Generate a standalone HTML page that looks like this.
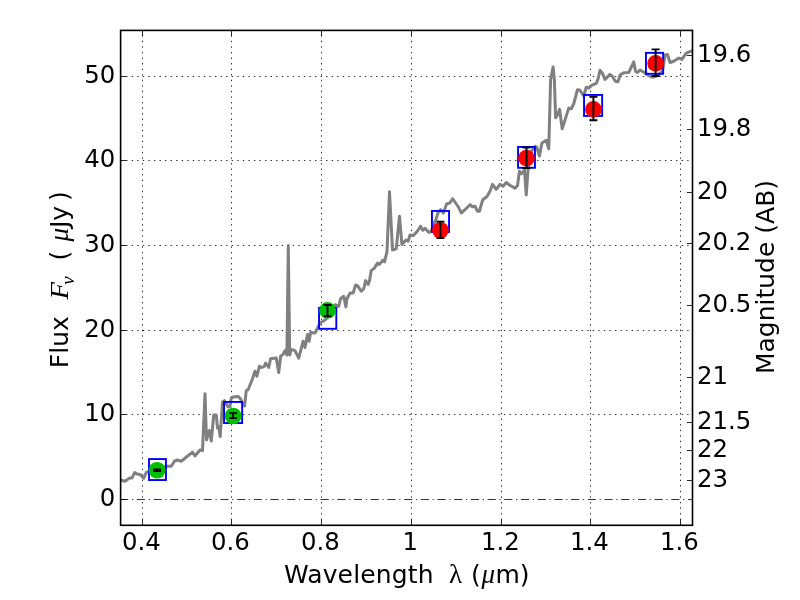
<!DOCTYPE html>
<html lang="en"><head><meta charset="utf-8"><title>SED plot</title>
<style>html,body{margin:0;padding:0;background:#fff;overflow:hidden}svg{display:block}text{font-family:"DejaVu Sans","Liberation Sans",sans-serif;fill:#000}.tk{font-size:24.4px}.lb{font-size:25px}.mi{font-family:"Liberation Serif","DejaVu Serif",serif;font-style:italic}.ms{font-family:"Liberation Serif","DejaVu Serif",serif}</style></head><body>
<svg width="800" height="600" viewBox="0 0 800 600">
<rect x="0" y="0" width="800" height="600" fill="#ffffff"/>
<defs><clipPath id="ax"><rect x="120.6" y="30.4" width="571.9" height="494.9"/></clipPath></defs>
<g stroke="#000" stroke-width="0.85" stroke-dasharray="1.35 4.205" fill="none">
<line x1="142.5" y1="525.5" x2="142.5" y2="30.4"/>
<line x1="231.5" y1="525.5" x2="231.5" y2="30.4"/>
<line x1="321.5" y1="525.5" x2="321.5" y2="30.4"/>
<line x1="411.5" y1="525.5" x2="411.5" y2="30.4"/>
<line x1="501.5" y1="525.5" x2="501.5" y2="30.4"/>
<line x1="590.5" y1="525.5" x2="590.5" y2="30.4"/>
<line x1="680.5" y1="525.5" x2="680.5" y2="30.4"/>
<line x1="120.6" y1="414.5" x2="692.5" y2="414.5"/>
<line x1="120.6" y1="330.5" x2="692.5" y2="330.5"/>
<line x1="120.6" y1="245.5" x2="692.5" y2="245.5"/>
<line x1="120.6" y1="160.5" x2="692.5" y2="160.5"/>
<line x1="120.6" y1="76.5" x2="692.5" y2="76.5"/>
</g>
<line x1="120.2" y1="499.5" x2="692.5" y2="499.5" stroke="#000" stroke-width="0.8" stroke-dasharray="8.1 3.7 1.2 3.7"/>
<polyline clip-path="url(#ax)" points="118.00,480.50 120.50,480.00 125.00,481.25 129.40,478.10 131.90,478.10 134.75,472.50 136.90,474.00 140.00,474.40 143.75,478.10 146.25,472.50 148.00,471.90 152.00,471.00 157.00,470.00 162.00,468.00 166.90,466.25 171.25,466.25 174.40,461.25 177.50,460.00 181.25,461.25 192.50,452.20 195.00,456.00 200.00,450.00 202.50,450.60 205.00,393.80 206.50,440.00 209.40,430.50 211.25,441.00 213.75,415.00 216.25,415.00 217.50,428.10 218.75,426.90 220.20,436.60 222.50,402.00 224.40,400.60 228.10,406.90 230.00,406.25 231.25,398.10 233.10,396.90 238.10,396.40 240.30,398.50 242.00,402.00 244.60,406.00 246.25,390.60 248.10,389.70 252.50,378.75 255.00,371.25 256.90,376.25 259.40,366.25 261.90,367.50 264.40,366.25 265.60,363.10 268.75,367.50 270.60,358.75 276.25,358.10 278.75,372.50 280.60,356.25 283.10,354.40 285.00,350.60 286.90,355.00 288.30,245.50 289.70,355.00 291.25,349.40 295.00,350.60 298.75,358.10 303.10,341.25 305.00,347.50 307.50,334.40 309.10,341.25 310.60,332.50 315.00,333.10 318.10,326.90 320.00,323.10 325.00,320.00 327.50,317.50 331.00,311.00 335.00,304.70 338.75,306.25 340.60,298.75 343.75,296.25 345.90,306.90 346.90,298.75 350.00,293.10 353.10,293.10 355.60,285.00 357.50,285.60 361.25,291.25 363.75,288.75 365.60,280.60 368.10,284.40 369.40,281.25 371.25,270.60 374.40,268.10 377.50,263.10 379.40,264.40 383.10,260.00 384.60,261.90 387.00,251.25 389.50,191.80 392.50,250.00 396.25,248.90 399.50,216.20 401.90,244.40 406.00,240.00 408.10,241.25 410.00,235.00 413.40,235.60 417.50,231.00 420.60,226.25 422.80,230.30 425.00,228.40 429.00,232.50 431.25,231.20 433.75,223.75 435.60,220.60 438.10,212.50 440.60,209.70 443.40,213.10 446.60,204.00 450.00,202.80 452.50,198.75 454.40,201.25 458.75,207.50 461.25,213.00 465.00,209.70 470.00,204.70 472.50,206.90 475.00,206.25 477.50,211.25 479.40,211.25 482.80,199.70 487.00,196.50 490.00,191.25 492.50,184.40 496.25,189.40 500.00,184.40 503.10,186.25 506.25,182.50 509.40,185.00 515.00,188.10 517.50,185.60 519.40,171.25 521.25,173.75 523.10,172.50 524.40,169.40 526.25,195.00 528.10,168.75 531.25,152.50 532.50,149.40 535.30,146.25 536.90,147.50 539.40,156.00 541.90,143.10 546.25,140.30 548.75,148.75 550.60,80.00 553.10,66.90 554.40,80.00 555.60,117.80 557.50,115.00 559.60,109.40 562.20,128.75 568.75,108.10 571.25,108.75 573.75,103.75 577.50,89.70 580.00,90.30 583.75,96.00 586.25,87.20 588.75,88.10 591.25,85.60 593.75,84.40 596.25,83.40 598.10,78.75 600.00,70.30 602.50,73.40 605.00,79.40 607.50,76.90 609.70,74.40 612.20,76.00 615.30,81.30 618.00,81.70 620.30,74.50 623.75,72.80 628.75,72.50 633.75,61.90 635.60,71.50 637.50,72.50 640.00,70.00 644.40,72.50 647.50,75.00 651.25,76.90 654.40,76.90 657.50,75.60 662.50,71.25 665.00,55.00 667.50,54.40 670.00,62.50 673.75,61.25 678.75,58.10 681.90,59.40 686.25,53.10 692.50,50.60 696.00,49.50" fill="none" stroke="#808080" stroke-width="3.0" stroke-linejoin="round" stroke-linecap="butt"/>
<rect x="149.05" y="459.05" width="16.90" height="21.00" fill="none" stroke="#0000ff" stroke-width="1.9"/>
<rect x="224.05" y="401.95" width="18.10" height="21.10" fill="none" stroke="#0000ff" stroke-width="1.9"/>
<rect x="319.05" y="307.85" width="17.25" height="20.95" fill="none" stroke="#0000ff" stroke-width="1.9"/>
<rect x="431.95" y="210.95" width="17.10" height="21.00" fill="none" stroke="#0000ff" stroke-width="1.9"/>
<rect x="518.05" y="146.95" width="16.90" height="20.85" fill="none" stroke="#0000ff" stroke-width="1.9"/>
<rect x="584.05" y="94.95" width="18.10" height="21.00" fill="none" stroke="#0000ff" stroke-width="1.9"/>
<rect x="645.95" y="52.85" width="17.20" height="20.95" fill="none" stroke="#0000ff" stroke-width="1.9"/>
<circle cx="157.1" cy="470.25" r="8.35" fill="#00bf00"/>
<circle cx="233.1" cy="416.0" r="8.35" fill="#00bf00"/>
<circle cx="327.5" cy="310.4" r="8.35" fill="#00bf00"/>
<circle cx="440.4" cy="230.25" r="8.35" fill="#ff0000"/>
<circle cx="526.5" cy="158.1" r="8.35" fill="#ff0000"/>
<circle cx="593.4" cy="109.4" r="8.35" fill="#ff0000"/>
<circle cx="655.6" cy="63.4" r="8.35" fill="#ff0000"/>
<g stroke="#000" stroke-width="1.9" fill="none">
<path d="M157.1 469.4V471.1M153.1 469.4h8M153.1 471.1h8"/>
<path d="M233.1 413.1V418.1M229.1 413.1h8M229.1 418.1h8"/>
<path d="M327.5 305.0V316.25M323.5 305.0h8M323.5 316.25h8"/>
<path d="M440.4 221.6V238.1M436.4 221.6h8M436.4 238.1h8"/>
<path d="M526.5 147.5V168.1M522.5 147.5h8M522.5 168.1h8"/>
<path d="M593.4 96.9V120.25M589.4 96.9h8M589.4 120.25h8"/>
<path d="M655.6 49.4V76.0M651.6 49.4h8M651.6 76.0h8"/>
</g>
<g stroke="#000" stroke-width="0.85" fill="none">
<path d="M142.5 525.3v-5.6M142.5 30.4v5.6"/>
<path d="M231.5 525.3v-5.6M231.5 30.4v5.6"/>
<path d="M321.5 525.3v-5.6M321.5 30.4v5.6"/>
<path d="M411.5 525.3v-5.6M411.5 30.4v5.6"/>
<path d="M501.5 525.3v-5.6M501.5 30.4v5.6"/>
<path d="M590.5 525.3v-5.6M590.5 30.4v5.6"/>
<path d="M680.5 525.3v-5.6M680.5 30.4v5.6"/>
<path d="M120.6 499.5h5.6"/>
<path d="M120.6 414.5h5.6"/>
<path d="M120.6 330.5h5.6"/>
<path d="M120.6 245.5h5.6"/>
<path d="M120.6 160.5h5.6"/>
<path d="M120.6 76.5h5.6"/>
<path d="M692.5 55.5h-5.6"/>
<path d="M692.5 129.5h-5.6"/>
<path d="M692.5 192.5h-5.6"/>
<path d="M692.5 243.5h-5.6"/>
<path d="M692.5 305.5h-5.6"/>
<path d="M692.5 377.5h-5.6"/>
<path d="M692.5 422.5h-5.6"/>
<path d="M692.5 450.5h-5.6"/>
<path d="M692.5 480.5h-5.6"/>
</g>
<rect x="120.6" y="30.4" width="571.9" height="494.9" fill="none" stroke="#000" stroke-width="1.6"/>
<text class="tk" x="141.30" y="550.3" text-anchor="middle">0.4</text>
<text class="tk" x="230.30" y="550.3" text-anchor="middle">0.6</text>
<text class="tk" x="320.30" y="550.3" text-anchor="middle">0.8</text>
<text class="tk" x="410.30" y="550.3" text-anchor="middle">1</text>
<text class="tk" x="500.30" y="550.3" text-anchor="middle">1.2</text>
<text class="tk" x="589.30" y="550.3" text-anchor="middle">1.4</text>
<text class="tk" x="679.30" y="550.3" text-anchor="middle">1.6</text>
<text class="tk" x="115.2" y="506.30" text-anchor="end">0</text>
<text class="tk" x="115.2" y="421.30" text-anchor="end">10</text>
<text class="tk" x="115.2" y="337.30" text-anchor="end">20</text>
<text class="tk" x="115.2" y="252.30" text-anchor="end">30</text>
<text class="tk" x="115.2" y="167.30" text-anchor="end">40</text>
<text class="tk" x="115.2" y="83.30" text-anchor="end">50</text>
<text class="tk" x="696.9" y="62.30" text-anchor="start">19.6</text>
<text class="tk" x="696.9" y="136.30" text-anchor="start">19.8</text>
<text class="tk" x="696.9" y="199.30" text-anchor="start">20</text>
<text class="tk" x="696.9" y="250.30" text-anchor="start">20.2</text>
<text class="tk" x="696.9" y="312.30" text-anchor="start">20.5</text>
<text class="tk" x="696.9" y="384.30" text-anchor="start">21</text>
<text class="tk" x="696.9" y="429.30" text-anchor="start">21.5</text>
<text class="tk" x="696.9" y="457.30" text-anchor="start">22</text>
<text class="tk" x="696.9" y="487.30" text-anchor="start">23</text>
<text class="lb" x="284" y="582.7" textLength="149.5" lengthAdjust="spacing">Wavelength</text>
<text class="ms" font-size="27" x="449" y="582.7">λ</text>
<text class="lb" x="471" y="582.7">(</text>
<text class="mi" font-size="27" x="481.5" y="582.7">μ</text>
<text class="lb" x="495.4" y="582.7">m)</text>
<g transform="translate(68,0) rotate(-90)">
<text class="lb" x="-368.2" y="0">Flux</text>
<text class="mi" font-size="26" transform="translate(-299.6,0) scale(1.1,1)" x="0" y="0">F</text>
<text class="mi" font-size="19" x="-284.8" y="6">ν</text>
<text class="lb" x="-260.5" y="0">(</text>
<text class="mi" font-size="27" x="-241.5" y="0">μ</text>
<text class="lb" x="-228" y="0">Jy</text>
<text class="lb" x="-201" y="0">)</text>
</g>
<text class="lb" transform="translate(774,277) rotate(-90)" text-anchor="middle">Magnitude (AB)</text>
</svg></body></html>
